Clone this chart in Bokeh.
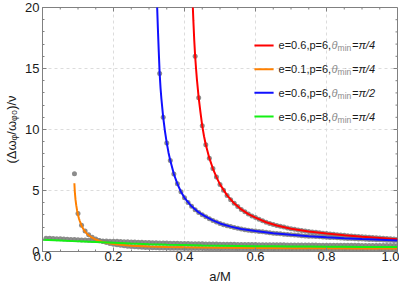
import math
from bokeh.plotting import figure
from bokeh.models import LinearAxis, SingleIntervalTicker, NumeralTickFormatter, Range1d
from bokeh.core.properties import value
from bokeh.embed import file_html
from bokeh.resources import INLINE

# ---------------- data ----------------
# analytic curves
red_a = [0.421, 0.4235, 0.425, 0.4275, 0.430, 0.4325, 0.435, 0.44, 0.445, 0.45, 0.455, 0.46, 0.47, 0.48,
         0.49, 0.50, 0.52, 0.54, 0.56, 0.58, 0.60, 0.63, 0.66, 0.70, 0.75, 0.80, 0.85, 0.90, 0.95, 1.00]
red_y = [21.6, 20.0, 18.9, 17.3, 16.0, 15.0, 14.1, 12.6, 11.4, 10.3, 9.45, 8.75, 7.65, 6.8,
         6.1, 5.5, 4.6, 3.95, 3.45, 3.07, 2.78, 2.4, 2.13, 1.87, 1.64, 1.47, 1.33, 1.2, 1.1, 1.0]

orange_a = [0.0898, 0.091, 0.093, 0.095, 0.0975, 0.10, 0.1025, 0.105, 0.11, 0.115, 0.12, 0.125, 0.13, 0.14,
            0.15, 0.16, 0.17, 0.18, 0.20, 0.22, 0.25, 0.30, 0.35, 0.40, 0.50, 0.60, 0.70, 0.80, 0.90, 1.00]
orange_y = [5.6, 4.9, 4.25, 3.8, 3.35, 3.0, 2.72, 2.5, 2.12, 1.85, 1.63, 1.46, 1.33, 1.13,
            0.98, 0.87, 0.79, 0.72, 0.62, 0.55, 0.48, 0.41, 0.37, 0.34, 0.31, 0.29, 0.27, 0.26, 0.25, 0.24]

blue_a = [0.3205, 0.323, 0.325, 0.3275, 0.330, 0.3325, 0.335, 0.34, 0.345, 0.35, 0.355, 0.36, 0.37, 0.38,
          0.39, 0.40, 0.42, 0.44, 0.46, 0.48, 0.50, 0.53, 0.56, 0.60, 0.65, 0.70, 0.75, 0.80, 0.85, 0.90,
          0.95, 1.00]
blue_y = [22.0, 20.0, 18.3, 16.4, 14.6, 13.4, 12.5, 11.0, 9.85, 8.9, 8.1, 7.45, 6.35, 5.55,
          4.9, 4.4, 3.7, 3.2, 2.85, 2.55, 2.3, 2.04, 1.84, 1.68, 1.5, 1.37, 1.26, 1.17, 1.09, 1.02,
          0.96, 0.90]

green_a = [0.0, 0.05, 0.10, 0.15, 0.20, 0.25, 0.30, 0.35, 0.40, 0.45, 0.50, 0.55, 0.60, 0.65, 0.70,
           0.75, 0.80, 0.85, 0.90, 0.95, 1.00]
green_y = [0.97, 0.90, 0.83, 0.77, 0.71, 0.65, 0.60, 0.56, 0.53, 0.50, 0.48, 0.46, 0.44, 0.43, 0.41,
           0.40, 0.39, 0.38, 0.37, 0.365, 0.36]

# numerical points (grid of a in steps of 0.01)
red_dot_start = 0.43
red_dot_y = [16.0, 12.6, 10.3, 8.75, 7.65, 6.8, 6.1, 5.5, 5.02, 4.6, 4.25, 3.95, 3.68, 3.45, 3.25, 3.07,
             2.92, 2.78, 2.65, 2.52, 2.40, 2.30, 2.21, 2.13, 2.06, 2.00, 1.93, 1.87, 1.82, 1.77, 1.72,
             1.68, 1.64, 1.60, 1.57, 1.53, 1.50, 1.47, 1.44, 1.41, 1.38, 1.35, 1.33, 1.30, 1.28, 1.25,
             1.23, 1.20, 1.18, 1.16, 1.14, 1.12, 1.10, 1.08, 1.06, 1.04, 1.02, 1.00]

orange_dot_start = 0.09
orange_dot_y = [6.38, 3.12, 2.15, 1.68, 1.38, 1.17, 1.02, 0.90, 0.81, 0.73, 0.66, 0.60, 0.55, 0.51,
                0.47, 0.44, 0.41, 0.39, 0.37, 0.35, 0.33, 0.32,
                0.31, 0.30, 0.29, 0.285, 0.28, 0.275, 0.27, 0.265, 0.26, 0.255,
                0.25, 0.247, 0.244, 0.241, 0.238, 0.235, 0.232, 0.229, 0.226, 0.223,
                0.221, 0.219, 0.217, 0.215, 0.213, 0.211, 0.209, 0.207, 0.205, 0.203,
                0.201, 0.199, 0.197, 0.196, 0.195, 0.194, 0.193, 0.192, 0.191, 0.19,
                0.189, 0.188, 0.187, 0.186, 0.185, 0.184, 0.183, 0.182, 0.181, 0.18,
                0.179, 0.178, 0.177, 0.177, 0.176, 0.176, 0.175, 0.175, 0.174, 0.174,
                0.173, 0.173, 0.172, 0.172, 0.171, 0.171, 0.17, 0.17, 0.17, 0.17]

blue_dot_start = 0.33
blue_dot_y = [14.6, 11.0, 8.9, 7.45, 6.35, 5.55, 4.9, 4.4, 4.02, 3.7, 3.43, 3.2, 3.01, 2.85, 2.69,
              2.55, 2.42, 2.3, 2.2, 2.11, 2.04, 1.97, 1.90, 1.84, 1.79, 1.74, 1.71, 1.68, 1.64, 1.61,
              1.57, 1.54, 1.50, 1.47, 1.45, 1.42, 1.40, 1.37, 1.35, 1.33, 1.30, 1.28, 1.26, 1.24,
              1.22, 1.20, 1.19, 1.17, 1.15, 1.14, 1.12, 1.10, 1.09, 1.07, 1.06, 1.04, 1.03, 1.02,
              1.01, 0.99, 0.98, 0.97, 0.96, 0.95, 0.93, 0.92, 0.91, 0.90]

green_dot_start = 0.01
green_dot_y = [1.09, 1.08, 1.06, 1.05, 1.04, 1.02, 1.01, 0.99, 0.98, 0.96,
               0.95, 0.94, 0.92, 0.91, 0.90, 0.89, 0.87, 0.86, 0.85, 0.84,
               0.83, 0.81, 0.80, 0.79, 0.78, 0.77, 0.76, 0.75, 0.74, 0.73,
               0.72, 0.71, 0.70, 0.70, 0.69, 0.68, 0.67, 0.67, 0.66, 0.65,
               0.65, 0.64, 0.64, 0.63, 0.63, 0.62, 0.62, 0.61, 0.61, 0.60,
               0.60, 0.59, 0.59, 0.59, 0.58, 0.58, 0.58, 0.57, 0.57, 0.57,
               0.56, 0.56, 0.56, 0.56, 0.55, 0.55, 0.55, 0.55, 0.54, 0.54,
               0.54, 0.54, 0.53, 0.53, 0.53, 0.53, 0.53, 0.52, 0.52, 0.52,
               0.52, 0.52, 0.52, 0.51, 0.51, 0.51, 0.51, 0.51, 0.51, 0.50,
               0.50, 0.50, 0.50, 0.50, 0.50, 0.50, 0.49, 0.49, 0.49, 0.49]

legend_e = ["0.6", "0.1", "0.6", "0.6"]
legend_p = ["6", "6", "6", "8"]
legend_theta = ["\u03c0/4", "\u03c0/4", "\u03c0/2", "\u03c0/4"]
series_colors = ["#ff0000", "#ff8000", "#1010ff", "#14f014"]

x_label = "a/M"
y_label = "(\u0394\u03c9\u1d69/\u03c9\u1d69\u2080)/\u03bd"

# tick positions for the mirrored (top / right) frame ticks
x_major_ticks = [0.0, 0.2, 0.4, 0.6, 0.8, 1.0]
x_minor_ticks = [0.05, 0.1, 0.15, 0.25, 0.3, 0.35, 0.45, 0.5, 0.55, 0.65, 0.7, 0.75, 0.85, 0.9, 0.95]
y_major_ticks = [0, 5, 10, 15, 20]
y_minor_ticks = [1, 2, 3, 4, 6, 7, 8, 9, 11, 12, 13, 14, 16, 17, 18, 19]


def grid(start, ys):
    return [round(start + 0.01 * i, 2) for i in range(len(ys))]


# ---------------- figure ----------------
FONT = "Liberation Sans"
FRAME = "#808080"
X0, X1, Y0, Y1 = 0, 1, 0, 20

p = figure(width=399, height=286, output_backend="svg", toolbar_location=None,
           x_range=Range1d(X0, X1), y_range=Range1d(Y0, Y1),
           x_axis_location=None, y_axis_location=None,
           min_border_left=42, min_border_right=2, min_border_top=7, min_border_bottom=32)
p.outline_line_color = FRAME
p.outline_line_width = 1
p.background_fill_color = "white"
p.border_fill_color = "white"

xt = SingleIntervalTicker(interval=0.2, num_minor_ticks=4)
yt = SingleIntervalTicker(interval=5, num_minor_ticks=5)

for loc in ["below", "left"]:
    horiz = loc == "below"
    ax = LinearAxis(ticker=xt if horiz else yt)
    ax.axis_line_color = FRAME
    ax.axis_line_width = 1
    ax.major_tick_line_color = FRAME
    ax.minor_tick_line_color = FRAME
    ax.major_tick_in = 4
    ax.major_tick_out = 0
    ax.minor_tick_in = 2
    ax.minor_tick_out = 0
    ax.formatter = NumeralTickFormatter(format="0.0" if horiz else "0")
    ax.major_label_text_font = FONT
    ax.major_label_text_font_size = "13px"
    ax.major_label_text_color = "#1a1a1a"
    ax.major_label_standoff = 0 if horiz else 3
    ax.axis_label = x_label if horiz else y_label
    ax.axis_label_text_font = FONT
    ax.axis_label_text_font_size = "13px"
    ax.axis_label_text_font_style = "normal"
    ax.axis_label_text_color = "#1a1a1a"
    ax.axis_label_standoff = 5 if horiz else 3
    p.add_layout(ax, loc)

# mirrored ticks on the top and right frame edges
p.ray(x=x_major_ticks, y=[Y1] * len(x_major_ticks), length=4, length_units="screen",
      angle=-math.pi / 2, line_color=FRAME, line_width=1)
p.ray(x=x_minor_ticks, y=[Y1] * len(x_minor_ticks), length=2, length_units="screen",
      angle=-math.pi / 2, line_color=FRAME, line_width=1)
p.ray(x=[X1] * len(y_major_ticks), y=y_major_ticks, length=4, length_units="screen",
      angle=math.pi, line_color=FRAME, line_width=1)
p.ray(x=[X1] * len(y_minor_ticks), y=y_minor_ticks, length=2, length_units="screen",
      angle=math.pi, line_color=FRAME, line_width=1)

p.xgrid.ticker = xt
p.ygrid.ticker = yt
p.xgrid.grid_line_color = "#dcdcdc"
p.ygrid.grid_line_color = "#dcdcdc"
p.xgrid.grid_line_dash = "3 3"
p.ygrid.grid_line_dash = "3 3"

# numerical points
DOT = "#808080"
for start, ys in [(red_dot_start, red_dot_y), (orange_dot_start, orange_dot_y),
                  (blue_dot_start, blue_dot_y), (green_dot_start, green_dot_y)]:
    p.scatter(grid(start, ys), ys, size=5, fill_color=DOT, line_color=None, fill_alpha=0.9)

# analytic curves
for (xs, ys), c in zip([(red_a, red_y), (orange_a, orange_y), (blue_a, blue_y), (green_a, green_y)],
                       series_colors):
    p.line(xs, ys, line_color=c, line_width=2)

# legend (drawn by hand so that theta_min can be subscripted)
leg_rows = [16.89, 14.93, 13.02, 11.06]
leg_x0, leg_x1, leg_tx = 0.597, 0.651, 0.665
p.segment(x0=[leg_x0] * 4, x1=[leg_x1] * 4, y0=leg_rows, y1=leg_rows,
          line_color=series_colors, line_width=2)
first = ["e=%s,p=%s," % (e, pp) for e, pp in zip(legend_e, legend_p)]
last = ["=" + t for t in legend_theta]
p.text(x=[leg_tx] * 4, y=leg_rows, text=first, text_font=value(FONT), text_font_size=value("11px"),
       text_baseline="middle", text_align="left", text_color="#1a1a1a")
p.text(x=[leg_tx] * 4, y=leg_rows, text=["\u03b8"] * 4, x_offset=53, text_font=value(FONT),
       text_font_style="italic", text_font_size=value("11px"),
       text_baseline="middle", text_align="left", text_color="#8c8c8c")
p.text(x=[leg_tx] * 4, y=leg_rows, text=["min"] * 4, x_offset=59, y_offset=3, text_font=value(FONT),
       text_font_size=value("8.5px"),
       text_baseline="middle", text_align="left", text_color="#8c8c8c")
p.text(x=[leg_tx] * 4, y=leg_rows, text=last, x_offset=73.5, text_font=value(FONT),
       text_font_size=value("11px"), text_font_style="italic",
       text_baseline="middle", text_align="left", text_color="#1a1a1a")

open("out.html", "w").write(file_html(p, INLINE))
